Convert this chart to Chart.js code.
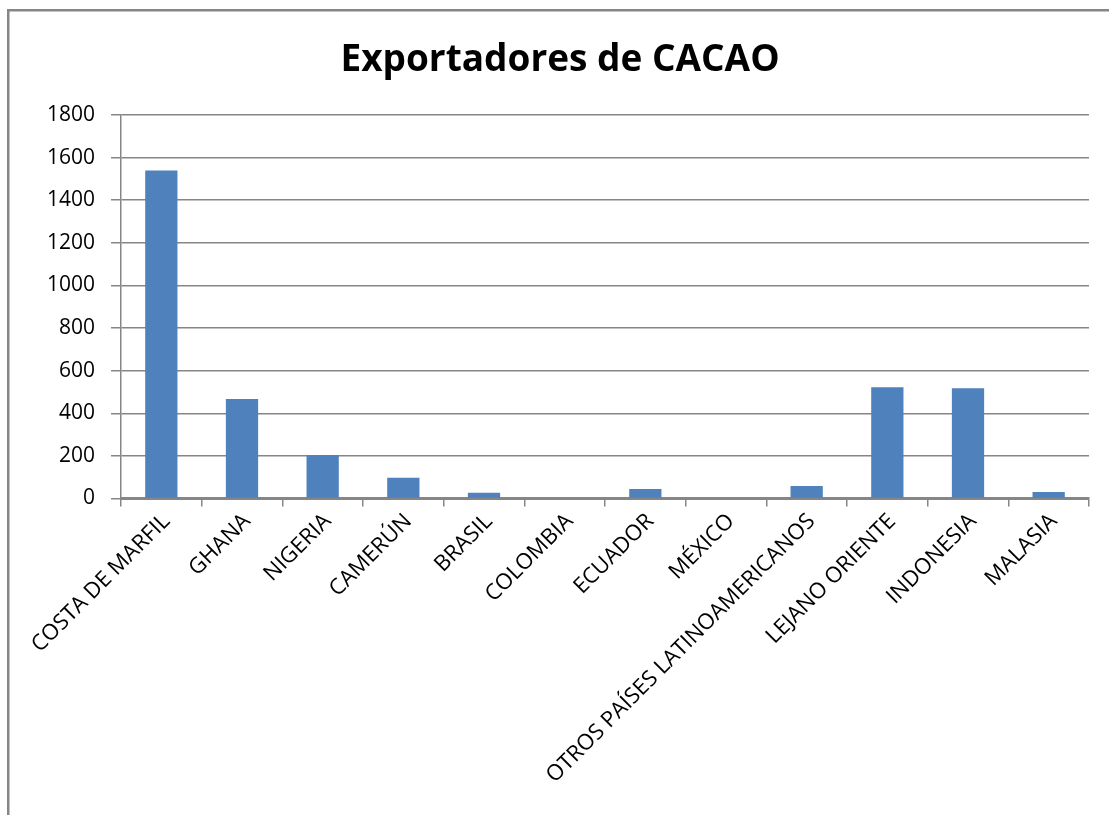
<!DOCTYPE html>
<html>
<head>
<meta charset="utf-8">
<script src="https://cdn.jsdelivr.net/npm/chart.js@4"></script>
<style>
  html, body { margin: 0; padding: 0; background: #ffffff; overflow: hidden; }
  #wrap { position: absolute; left: 0; top: 0; width: 1109px; height: 815px; }
</style>
</head>
<body>
<div id="wrap"><canvas id="chart" width="1109" height="815"></canvas></div>
<script>
// Cocoa exporters (thousand tonnes)
const chartTitle = 'Exportadores de CACAO';
const countries = [
  'COSTA DE MARFIL', 'GHANA', 'NIGERIA', 'CAMERÚN', 'BRASIL', 'COLOMBIA',
  'ECUADOR', 'MÉXICO', 'OTROS PAÍSES LATINOAMERICANOS', 'LEJANO ORIENTE',
  'INDONESIA', 'MALASIA'
];
const exports = [1540, 467, 204, 97, 27, 0, 45, 0, 59, 522, 518, 31];
const yMin = 0;
const yMax = 1800;
const yStep = 200;

const axisGray = '#868686';

// Frame line along the top and left of the chart object
const framePlugin = {
  id: 'frame',
  beforeDraw(chart) {
    const ctx = chart.ctx;
    ctx.save();
    ctx.fillStyle = axisGray;
    ctx.fillRect(7, 9, chart.width, 2.5);
    ctx.fillRect(7, 9, 2.5, chart.height);
    ctx.restore();
  }
};

new Chart(document.getElementById('chart'), {
  type: 'bar',
  data: {
    labels: countries,
    datasets: [{
      data: exports,
      backgroundColor: '#4F81BD',
      borderWidth: 0,
      barPercentage: 0.4,
      categoryPercentage: 1.0
    }]
  },
  plugins: [framePlugin],
  options: {
    responsive: false,
    animation: false,
    layout: { padding: { left: 31, right: 20, top: 0, bottom: 0 } },
    plugins: {
      legend: { display: false },
      tooltip: { enabled: false },
      title: {
        display: true,
        text: chartTitle,
        color: '#000000',
        font: { family: '"Open Sans", sans-serif', size: 37, weight: 'bold', lineHeight: 1.2 },
        padding: { top: 38, bottom: 32.6 }
      }
    },
    scales: {
      x: {
        grid: {
          offset: true,
          drawOnChartArea: false,
          drawTicks: true,
          tickLength: 8,
          color: axisGray,
          lineWidth: 1.5
        },
        border: { display: true, color: axisGray, width: 3 },
        ticks: {
          autoSkip: false,
          minRotation: 45,
          maxRotation: 45,
          padding: 2,
          labelOffset: 5,
          color: '#000000',
          font: { family: '"Open Sans", sans-serif', size: 22 }
        },
        afterFit(scale) { scale.height = 316.5; }
      },
      y: {
        min: yMin,
        max: yMax,
        grid: {
          color: axisGray,
          lineWidth: 1.5,
          drawTicks: true,
          tickLength: 10
        },
        border: { display: true, color: axisGray, width: 1.5 },
        ticks: {
          stepSize: yStep,
          padding: 16,
          color: '#000000',
          font: { family: '"Open Sans", sans-serif', size: 21 },
          callback: (value) => String(value)
        },
        afterFit(scale) { scale.width = 90; }
      }
    }
  }
});
</script>
</body>
</html>
